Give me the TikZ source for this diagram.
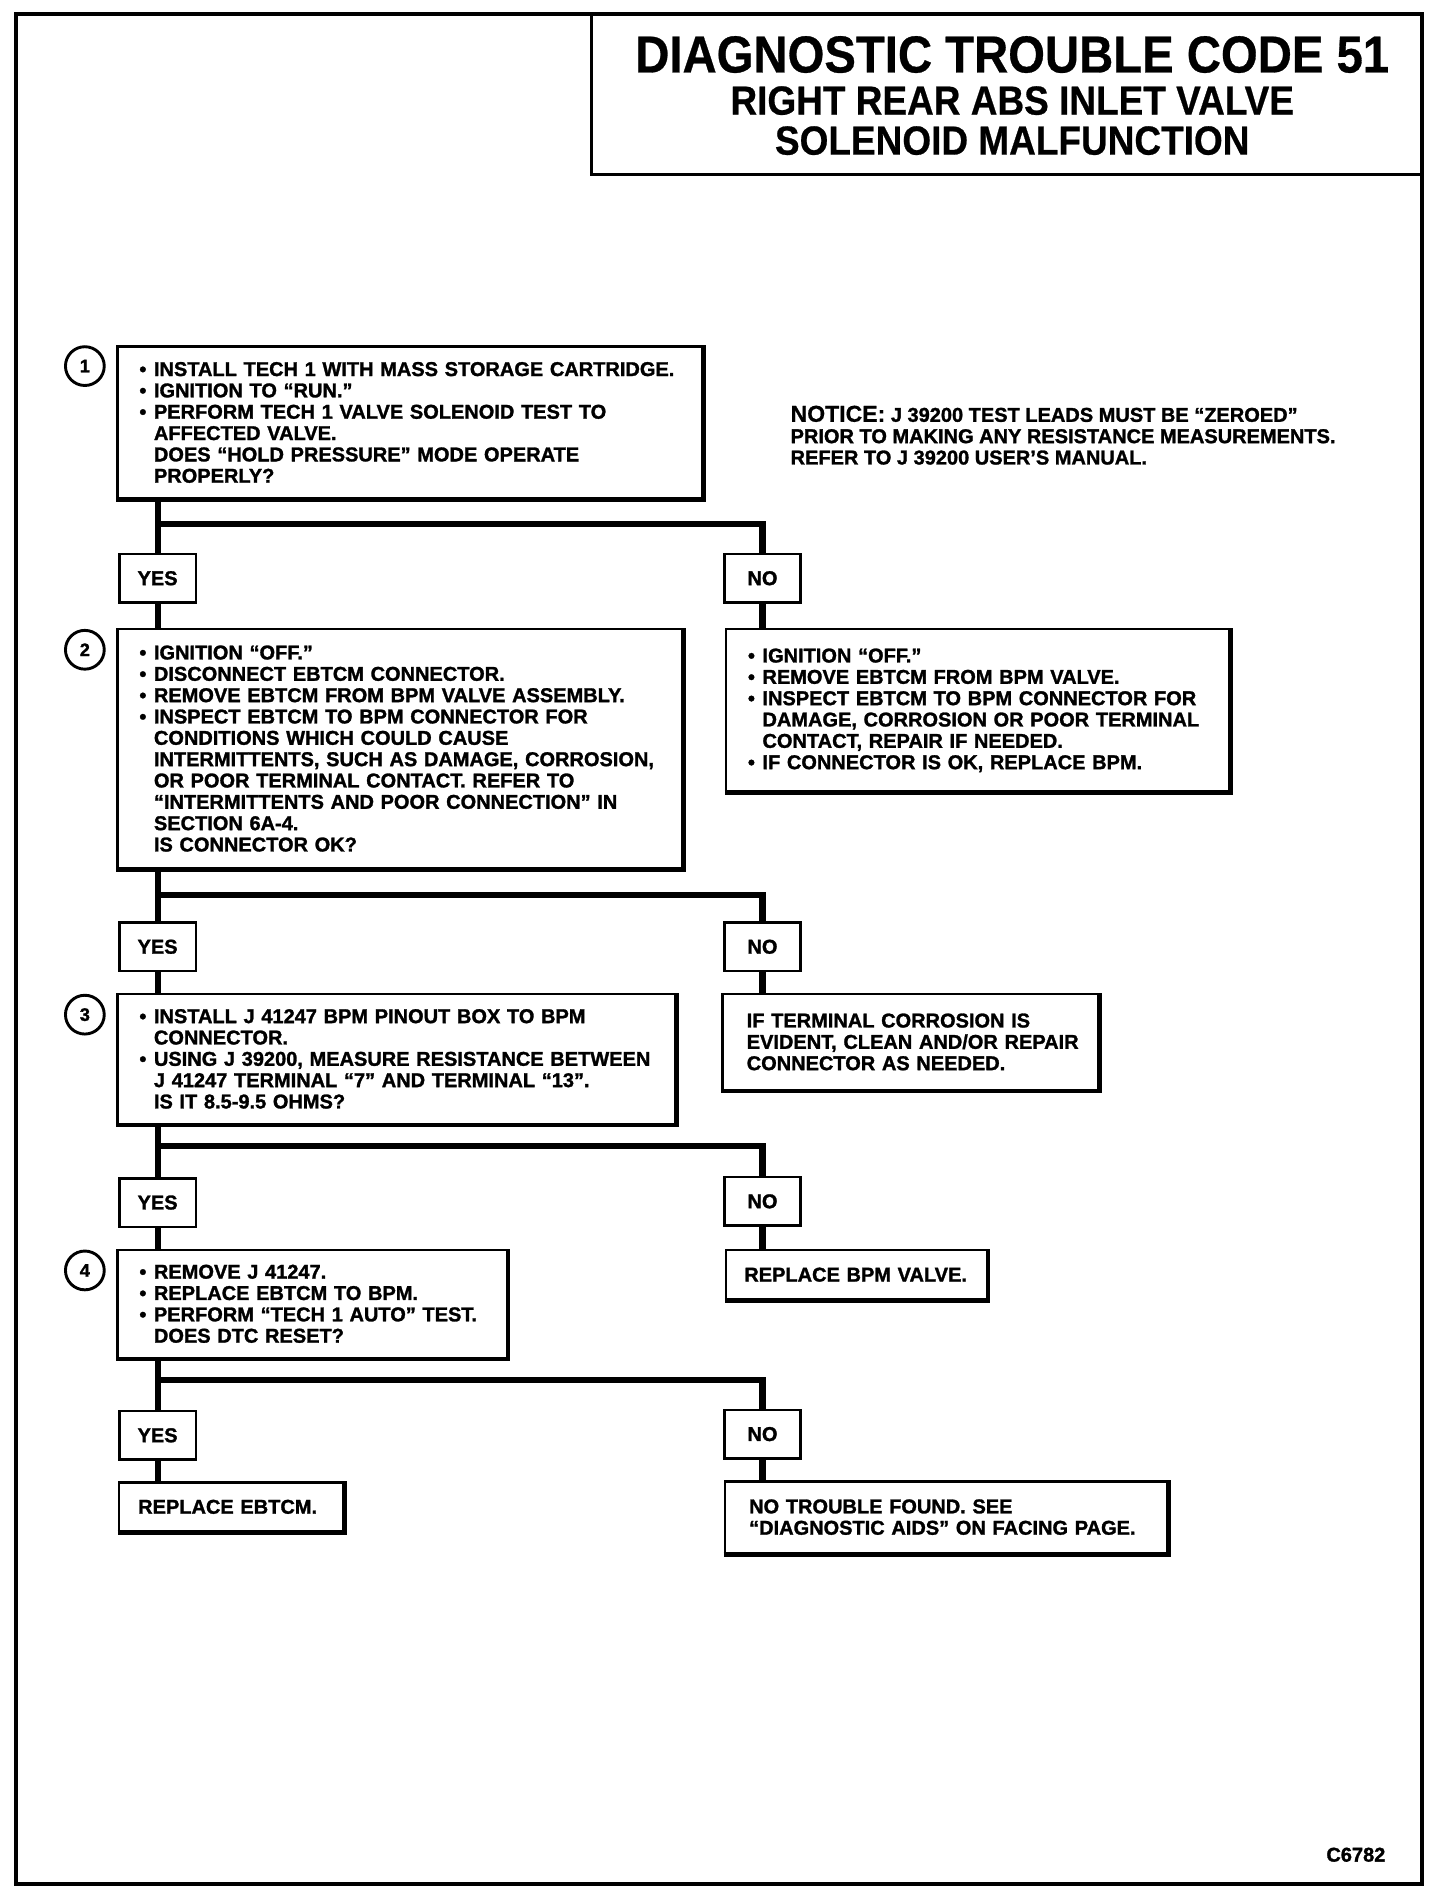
\documentclass[tikz,border=0pt]{standalone}
\usepackage{fontspec}
\setmainfont{Liberation Sans}
\newfontfamily\headfont{Liberation Sans Bold}[FakeBold=0.6]
\newfontfamily\dtcfont{Liberation Sans Bold}[FakeBold=1.4]
\newcommand{\bodyfont}{\dtcfont\fontsize{16.5}{17.6}\selectfont}
\newcommand{\bl}[1]{\mbox{\makebox[12pt][l]{\textbullet}#1}}
\newcommand{\cl}[1]{\mbox{\hspace*{12pt}#1}}

\tikzset{
	stepbox/.style={draw, line width=2pt, anchor=north west, inner xsep=18pt, inner ysep=0pt, align=left, font=\bodyfont},
	ansbox/.style={draw, line width=2pt, minimum width=63pt, minimum height=40pt, inner sep=0pt, font=\bodyfont},
	stepno/.style={circle, draw, line width=2.4pt, minimum size=32pt, inner sep=0pt, font=\dtcfont\fontsize{15}{15}\selectfont},
	link/.style={line width=5pt, line join=miter},
}

\begin{document}
\begin{tikzpicture}[x=1pt,y=-1pt]
	\useasboundingbox (0,0) rectangle (1201,1569);
	\draw[line width=3.5pt] (13,11.5) rectangle (1173,1554);
	\draw[line width=2.5pt] (488,11.5) rectangle (1173,144);

	\node (T1) at (835, 45)	[font=\headfont\fontsize{39}{39}\selectfont]	{\scalebox{1}[1.1]{DIAGNOSTIC TROUBLE CODE 51}};
	\node (T2) at (835, 83)	[font=\headfont\fontsize{30.5}{30.5}\selectfont]	{\scalebox{1}[1.1]{RIGHT REAR ABS INLET VALVE}};
	\node (T3) at (835,116)	[font=\headfont\fontsize{30.5}{30.5}\selectfont]	{\scalebox{1}[1.1]{SOLENOID MALFUNCTION}};

	\node (NT) at (652,359)	[anchor=west, align=left, inner sep=0pt, font=\bodyfont]
		{{\headfont\fontsize{19}{19}\selectfont NOTICE:} J 39200 TEST LEADS MUST BE “ZEROED”\\
		 PRIOR TO MAKING ANY RESISTANCE MEASUREMENTS.\\
		 REFER TO J 39200 USER’S MANUAL.};

	% steps
	\node (C1) at (70, 302)	[stepno]	{1};
	\node (C2) at (70, 536)	[stepno]	{2};
	\node (C3) at (70, 837)	[stepno]	{3};
	\node (C4) at (70,1048)	[stepno]	{4};

	\node (S1) at (96, 285)	[stepbox, minimum height=125pt, text width=446pt]
		{\bl{INSTALL TECH 1 WITH MASS STORAGE CARTRIDGE.}\\
		 \bl{IGNITION TO “RUN.”}\\
		 \bl{PERFORM TECH 1 VALVE SOLENOID TEST TO}\\
		 \cl{AFFECTED VALVE.}\\
		 \cl{DOES “HOLD PRESSURE” MODE OPERATE}\\
		 \cl{PROPERLY?}};
	\node (S2) at (96, 518)	[stepbox, minimum height=197pt, text width=430pt]
		{\bl{IGNITION “OFF.”}\\
		 \bl{DISCONNECT EBTCM CONNECTOR.}\\
		 \bl{REMOVE EBTCM FROM BPM VALVE ASSEMBLY.}\\
		 \bl{INSPECT EBTCM TO BPM CONNECTOR FOR}\\
		 \cl{CONDITIONS WHICH COULD CAUSE}\\
		 \cl{INTERMITTENTS, SUCH AS DAMAGE, CORROSION,}\\
		 \cl{OR POOR TERMINAL CONTACT. REFER TO}\\
		 \cl{“INTERMITTENTS AND POOR CONNECTION” IN}\\
		 \cl{SECTION 6A-4.}\\
		 \cl{IS CONNECTOR OK?}};
	\node (S3) at (96, 819)	[stepbox, minimum height=107pt, text width=424pt]
		{\bl{INSTALL J 41247 BPM PINOUT BOX TO BPM}\\
		 \cl{CONNECTOR.}\\
		 \bl{USING J 39200, MEASURE RESISTANCE BETWEEN}\\
		 \cl{J 41247 TERMINAL “7” AND TERMINAL “13”.}\\
		 \cl{IS IT 8.5-9.5 OHMS?}};
	\node (S4) at (96,1030)	[stepbox, minimum height=89pt, text width=285pt]
		{\bl{REMOVE J 41247.}\\
		 \bl{REPLACE EBTCM TO BPM.}\\
		 \bl{PERFORM “TECH 1 AUTO” TEST.}\\
		 \cl{DOES DTC RESET?}};

	% results
	\node (R1) at (598, 518)	[stepbox, minimum height=134pt, text width=379pt]
		{\bl{IGNITION “OFF.”}\\
		 \bl{REMOVE EBTCM FROM BPM VALVE.}\\
		 \bl{INSPECT EBTCM TO BPM CONNECTOR FOR}\\
		 \cl{DAMAGE, CORROSION OR POOR TERMINAL}\\
		 \cl{CONTACT, REPAIR IF NEEDED.}\\
		 \bl{IF CONNECTOR IS OK, REPLACE BPM.}};
	\node (R2) at (595, 819)	[stepbox, inner xsep=20pt, minimum height=79pt, text width=270pt]
		{\mbox{IF TERMINAL CORROSION IS}\\
		 \mbox{EVIDENT, CLEAN AND/OR REPAIR}\\
		 \mbox{CONNECTOR AS NEEDED.}};
	\node (R3) at (598,1030)	[stepbox, inner xsep=15pt, minimum height=41pt, text width=185pt]
		{\mbox{REPLACE BPM VALVE.}};
	\node (R4) at (97,1222)	[stepbox, inner xsep=16pt, minimum height=40pt, text width=153pt]
		{\mbox{REPLACE EBTCM.}};
	\node (R5) at (597,1221)	[stepbox, inner xsep=20pt, minimum height=59pt, text width=325pt]
		{\mbox{NO TROUBLE FOUND. SEE}\\
		 \mbox{“DIAGNOSTIC AIDS” ON FACING PAGE.}};
	\foreach \n in {S1,S2,S3,S4,R1,R2,R3,R4,R5}
		\draw[line width=4pt] (\n.south west) -- (\n.south east) -- (\n.north east);

	% answers
	\node (Y1) at (130, 477)	[ansbox]	{YES};
	\node (N1) at (629, 477)	[ansbox]	{NO};
	\node (Y2) at (130, 781)	[ansbox]	{YES};
	\node (N2) at (629, 781)	[ansbox]	{NO};
	\node (Y3) at (130, 992)	[ansbox]	{YES};
	\node (N3) at (629, 991)	[ansbox]	{NO};
	\node (Y4) at (130,1184)	[ansbox]	{YES};
	\node (N4) at (629,1183)	[ansbox]	{NO};

	\coordinate (J1) at (130, 432);
	\coordinate (J2) at (130, 738);
	\coordinate (J3) at (130, 945);
	\coordinate (J4) at (130,1138);

	\draw[link] (S1.south -| J1) -- (Y1.north);
	\draw[link] (J1) -| (N1.north);
	\draw[link] (Y1.south) -- (Y1.south |- S2.north);
	\draw[link] (N1.south) -- (N1.south |- R1.north);

	\draw[link] (S2.south -| J2) -- (Y2.north);
	\draw[link] (J2) -| (N2.north);
	\draw[link] (Y2.south) -- (Y2.south |- S3.north);
	\draw[link] (N2.south) -- (N2.south |- R2.north);

	\draw[link] (S3.south -| J3) -- (Y3.north);
	\draw[link] (J3) -| (N3.north);
	\draw[link] (Y3.south) -- (Y3.south |- S4.north);
	\draw[link] (N3.south) -- (N3.south |- R3.north);

	\draw[link] (S4.south -| J4) -- (Y4.north);
	\draw[link] (J4) -| (N4.north);
	\draw[link] (Y4.south) -- (Y4.south |- R4.north);
	\draw[link] (N4.south) -- (N4.south |- R5.north);

	\node (ID) at (1143,1530)	[anchor=east, inner sep=0pt, font=\bodyfont]	{C6782};
\end{tikzpicture}
\end{document}
